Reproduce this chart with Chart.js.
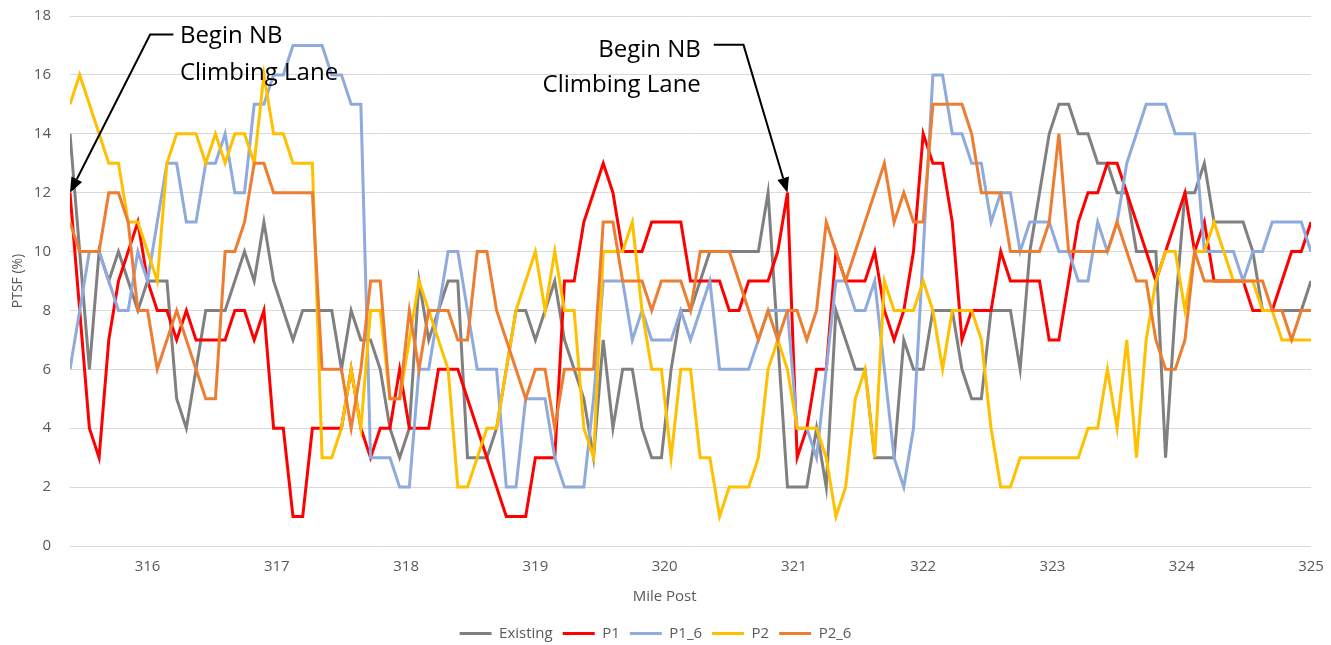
<!DOCTYPE html>
<html>
<head>
<meta charset="utf-8">
<script src="https://cdn.jsdelivr.net/npm/chart.js@4.4.0/dist/chart.umd.min.js"></script>
<style>
  html, body { margin: 0; padding: 0; background: #ffffff; }
  #wrap { width: 1331px; height: 645px; }
</style>
</head>
<body>
<div id="wrap"><canvas id="ptsfChart" width="1331" height="645"></canvas></div>
<script>
// mile post sampling of the analysis segments
const startMilePost = 315.4;
const milePostStep = 0.075;
const xTickValues = [316, 317, 318, 319, 320, 321, 322, 323, 324, 325];
const yTickMax = 18;

// PTSF (%), one value per segment
const existing = [
  14,10,6,10,9,10,9,8,9,9,9,5,4,6,8,8,8,9,10,9,11,9,
  8,7,8,8,8,8,6,8,7,7,6,4,3,4,9,7,8,9,9,3,3,
  3,4,6,8,8,7,8,9,7,6,5,3,
  7,4,6,6,4,3,3,6,8,8,9,10,10,10,10,10,10,12,7,2,2,2,4,2,8,7,6,6,3,3,3,7,6,6,
  8,8,8,6,5,5,8,8,8,6,10,12,14,15,15,14,14,13,13,12,12,10,10,10,3,8,12,12,13,11,11,11,11,10,8,8,8,8,8,9
];
const p1 = [
  12,8,4,3,7,9,10,11,9,8,8,7,8,7,7,7,7,8,8,7,8,4,
  4,1,1,4,4,4,4,6,4,3,4,4,6,4,4,4,6,6,6,5,4,
  3,2,1,1,1,3,3,3,9,9,11,12,13,12,10,10,10,
  11,11,11,11,9,9,9,9,8,8,9,9,9,10,12,
  3,4,6,6,10,9,9,9,10,8,7,8,10,14,
  13,13,11,7,8,8,8,10,9,9,9,9,7,7,9,
  11,12,12,13,13,12,11,10,9,10,11,12,10,11,9,9,9,9,8,8,8,9,10,10,11
];
const p1_6 = [
  6,8,10,10,9,8,8,10,9,11,13,13,11,11,13,13,14,12,12,15,15,16,
  16,17,17,17,17,16,16,15,15,3,3,3,2,2,6,6,8,10,10,8,6,
  6,6,2,2,5,5,5,3,2,2,2,5,9,9,9,7,
  8,7,7,7,8,7,8,9,6,6,6,6,7,8,8,8,4,4,3,6,9,9,8,8,9,6,3,2,4,10,
  16,16,14,14,13,13,11,12,12,10,11,11,11,10,10,9,9,11,10,11,
  13,14,15,15,15,14,14,14,10,10,10,10,9,10,10,11,11,11,11,10
];
const p2 = [
  15,16,15,14,13,13,11,11,10,9,13,14,14,14,13,14,13,14,14,13,16,14,
  14,13,13,13,3,3,4,6,4,8,8,5,5,7,9,8,7,6,2,2,3,
  4,4,6,8,9,10,8,10,8,8,4,3,10,10,10,11,
  8,6,6,3,6,6,3,3,1,2,2,2,3,6,7,6,4,4,4,3,1,2,5,6,3,9,8,
  8,8,9,8,6,8,8,8,7,4,2,2,3,3,3,3,3,3,3,4,4,
  6,4,7,3,7,9,10,10,8,10,10,11,10,9,9,9,8,8,7,7,7,7
];
const p2_6 = [
  11,10,10,10,12,12,11,8,8,6,7,8,7,6,5,5,10,10,11,13,13,12,
  12,12,12,12,6,6,6,4,6,9,9,5,5,8,6,8,8,8,7,7,10,
  10,8,7,6,5,6,6,4,6,6,6,6,11,11,9,9,
  9,8,9,9,9,8,10,10,10,10,9,8,7,8,7,8,8,7,8,11,
  10,9,10,11,12,13,11,12,11,11,15,15,15,15,14,12,12,12,10,10,
  10,10,11,14,10,10,10,10,10,11,10,9,9,7,6,6,7,10,9,9,
  9,9,9,9,9,8,8,7,8,8
];

const seriesNames = ['Existing', 'P1', 'P1_6', 'P2', 'P2_6'];
const seriesValues = [existing, p1, p1_6, p2, p2_6];
const seriesColors = ['#808080', '#ff0000', '#8faadc', '#ffc000', '#ed7d31'];

const milePosts = existing.map((_, i) => +(startMilePost + i * milePostStep).toFixed(3));

// callout text and arrows, in data units
const callouts = [
  { lines: ['Begin NB', 'Climbing Lane'], textX: 316.25, textY: [17.32, 16.06], align: 'left',
    path: [[316.2, 17.37], [316.02, 17.37]], tip: [315.4, 12] },
  { lines: ['Begin NB', 'Climbing Lane'], textX: 320.28, textY: [16.84, 15.65], align: 'right',
    path: [[320.38, 17.02], [320.61, 17.02]], tip: [320.95, 12] }
];
const xTitle = { text: 'Mile Post', atValue: 320, y: 597 };

const textGray = '#595959';
const fontFamily = '"Open Sans", "Liberation Sans", sans-serif';
const clear = 'rgba(0,0,0,0)';

const calloutPlugin = {
  id: 'callouts',
  afterDraw(chart) {
    const ctx = chart.ctx;
    const xs = chart.scales.x;
    const ys = chart.scales.y;
    ctx.save();

    // x axis title, Excel puts it a little left of the plot centre
    ctx.fillStyle = textGray;
    ctx.font = '15px ' + fontFamily;
    ctx.textAlign = 'center';
    ctx.textBaseline = 'middle';
    ctx.fillText(xTitle.text, xs.getPixelForValue(xTitle.atValue), xTitle.y);

    ctx.fillStyle = '#000000';
    ctx.strokeStyle = '#000000';
    ctx.font = '24px ' + fontFamily;
    callouts.forEach(c => {
      ctx.textAlign = c.align;
      c.lines.forEach((line, k) => {
        ctx.fillText(line, xs.getPixelForValue(c.textX), ys.getPixelForValue(c.textY[k]));
      });
      const pts = c.path.map(p => [xs.getPixelForValue(p[0]), ys.getPixelForValue(p[1])]);
      const tip = [xs.getPixelForValue(c.tip[0]), ys.getPixelForValue(c.tip[1])];
      const last = pts[pts.length - 1];
      const dx = tip[0] - last[0];
      const dy = tip[1] - last[1];
      const len = Math.hypot(dx, dy);
      const ux = dx / len, uy = dy / len;
      const headLen = 15, headHalf = 6;
      const base = [tip[0] - ux * headLen, tip[1] - uy * headLen];
      ctx.lineWidth = 2;
      ctx.beginPath();
      ctx.moveTo(pts[0][0], pts[0][1]);
      pts.slice(1).forEach(p => ctx.lineTo(p[0], p[1]));
      ctx.lineTo(base[0], base[1]);
      ctx.stroke();
      ctx.beginPath();
      ctx.moveTo(tip[0], tip[1]);
      ctx.lineTo(base[0] - uy * headHalf, base[1] + ux * headHalf);
      ctx.lineTo(base[0] + uy * headHalf, base[1] - ux * headHalf);
      ctx.closePath();
      ctx.fill();
    });
    ctx.restore();
  }
};

const ctx = document.getElementById('ptsfChart').getContext('2d');

new Chart(ctx, {
  type: 'line',
  data: {
    datasets: seriesNames.map((name, s) => ({
      label: name,
      data: milePosts.map((x, i) => ({ x: x, y: seriesValues[s][i] })),
      borderColor: seriesColors[s],
      backgroundColor: seriesColors[s],
      borderWidth: 3,
      pointRadius: 0,
      tension: 0,
      fill: false,
      order: seriesNames.length - s
    }))
  },
  options: {
    responsive: false,
    animation: false,
    layout: { padding: { left: 0, right: 20, top: 16, bottom: -6 } },
    scales: {
      x: {
        type: 'linear',
        min: startMilePost,
        max: xTickValues[xTickValues.length - 1],
        afterBuildTicks: scale => {
          scale.ticks = xTickValues.map(v => ({ value: v }));
        },
        afterFit: scale => { scale.height = 70; },
        grid: { display: true, color: clear, tickColor: clear, drawTicks: true, tickLength: 9 },
        border: { display: false },
        ticks: {
          color: textGray,
          font: { family: fontFamily, size: 15 },
          padding: 3,
          maxRotation: 0,
          callback: v => String(v)
        },
        title: { display: false }
      },
      y: {
        min: 0,
        max: yTickMax,
        afterFit: scale => { scale.width = 70; },
        grid: { color: '#d9d9d9', lineWidth: 1, tickColor: clear, drawTicks: true, tickLength: 16 },
        border: { display: false },
        ticks: {
          stepSize: 2,
          color: textGray,
          font: { family: fontFamily, size: 15 },
          padding: 3
        },
        title: {
          display: true,
          text: 'PTSF (%)',
          color: textGray,
          font: { family: fontFamily, size: 14 },
          padding: { top: 10, bottom: 0 }
        }
      }
    },
    plugins: {
      legend: {
        position: 'bottom',
        labels: {
          usePointStyle: true,
          pointStyle: 'line',
          pointStyleWidth: 32,
          color: textGray,
          font: { family: fontFamily, size: 15 },
          padding: 10,
          sort: (a, b) => a.datasetIndex - b.datasetIndex
        }
      },
      tooltip: { enabled: false }
    }
  },
  plugins: [calloutPlugin]
});
</script>
</body>
</html>
